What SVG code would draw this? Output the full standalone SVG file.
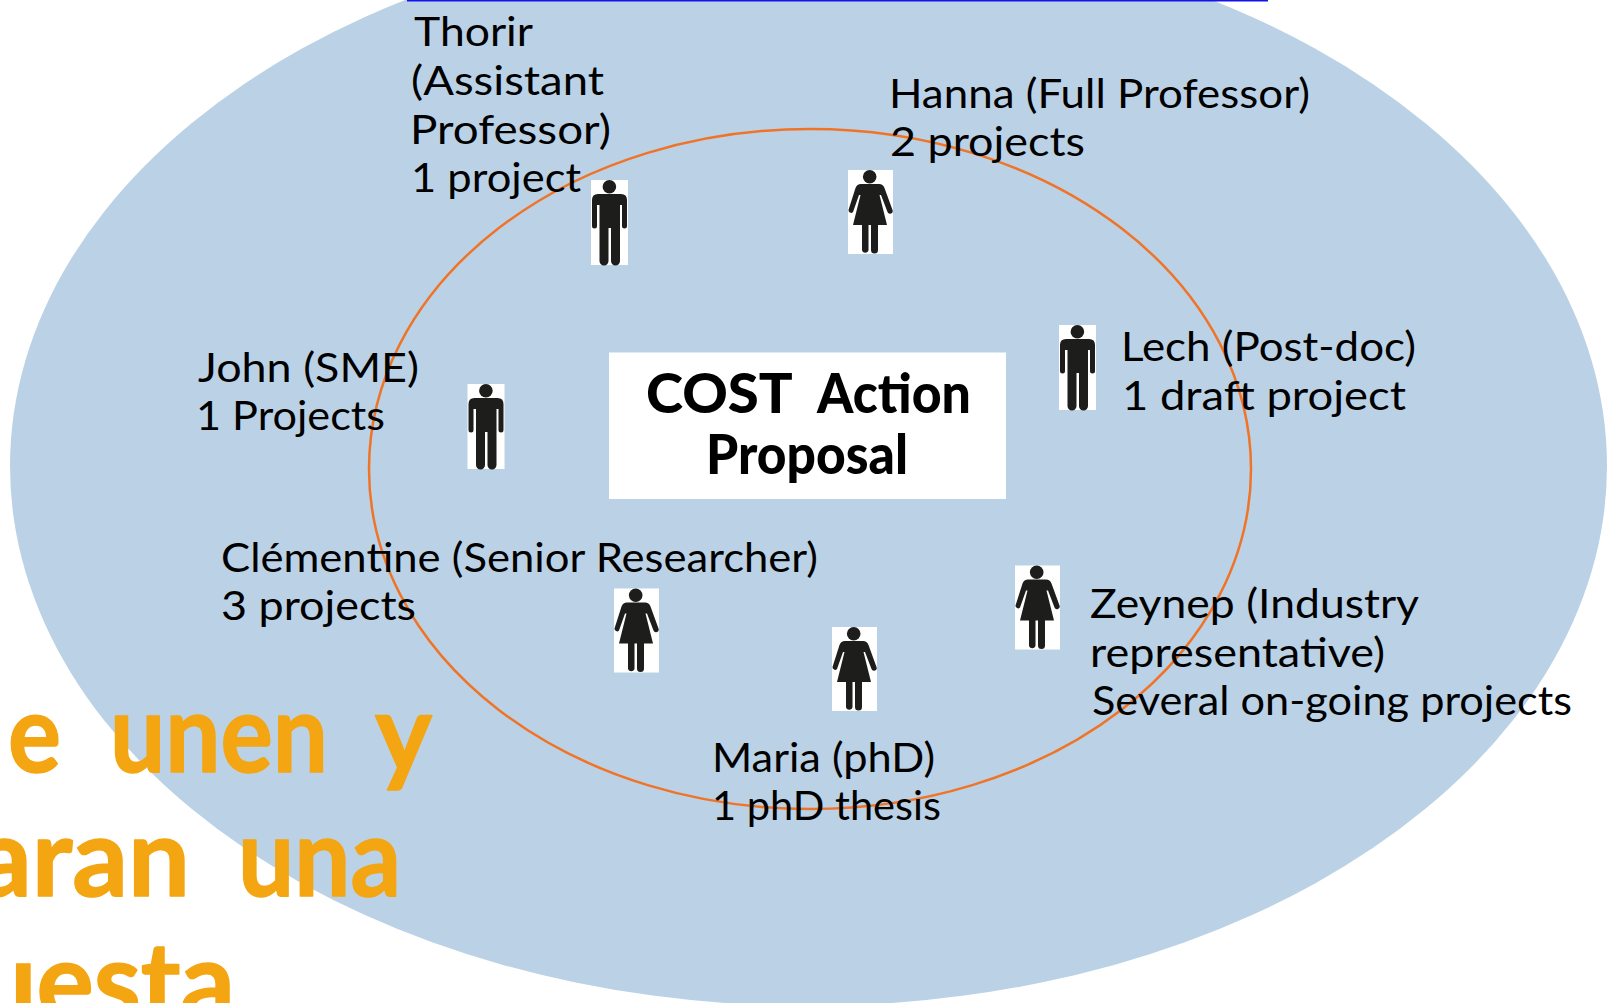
<svg xmlns="http://www.w3.org/2000/svg" width="1607" height="1003" viewBox="0 0 1607 1003">
<style>
text{font-family:"Lato","Open Sans",sans-serif}
.t{font-size:41px;fill:#000}
.c{font-size:56px;font-weight:900;fill:#000}
.o{font-size:110px;font-weight:700;fill:#F4A512;stroke:#F4A512;stroke-width:1.500;stroke-linejoin:round}
.bg{fill:#fff}
.ink{fill:#1d1d1b}
</style>
<defs>
<g id="man"><rect class="bg" width="37" height="85"/><circle class="ink" cx="18.4" cy="6.8" r="6.8"/><path class="ink" d="M1 20Q1 14 7 14H30Q36 14 36 20V46A2.5 2.5 0 0 1 31 46V25H29V81A4.5 4.5 0 0 1 20 81V48H17.500V81A4.5 4.5 0 0 1 8.5 81V25H6V46A2.5 2.5 0 0 1 1 46Z"/></g>
<g id="woman"><rect class="bg" width="45" height="84"/><circle class="ink" cx="21.7" cy="6.8" r="6.8"/><path class="ink" d="M13 14H31Q35 14 36.500 18L44.500 40A2.600 2.600 0 0 1 39.500 42L33 25H31.500L39 55H30V80A3.300 3.300 0 0 1 23 80V55H20.500V80A3.300 3.300 0 0 1 14 80V55H5L12.500 25H11L5 42A2.600 2.600 0 0 1 .5 40L7.500 18Q9 14 13 14Z"/></g>
</defs>
<rect width="1607" height="1003" fill="#fff"/>
<ellipse id="outer" cx="808.500" cy="466" rx="798.500" ry="540" fill="#BBD2E6"/>
<rect id="topline" x="407" y="0" width="861" height="1.500" fill="#1414e6"/>
<ellipse id="inner" cx="810" cy="469" rx="441" ry="340" fill="none" stroke="#F07427" stroke-width="2.500"/>
<g id="title"><rect class="bg" x="609" y="352.500" width="397" height="146.500"/>
<text class="c" y="413"><tspan x="646" textLength="145" lengthAdjust="spacingAndGlyphs">COST</tspan> <tspan x="817" textLength="154" lengthAdjust="spacingAndGlyphs">Action</tspan></text>
<text class="c" x="706" y="474" textLength="202" lengthAdjust="spacingAndGlyphs">Proposal</text></g>
<g id="thorir"><use href="#man" x="591" y="180"/>
<text class="t" x="414" y="46" textLength="119" lengthAdjust="spacingAndGlyphs">Thorir</text>
<text class="t" x="411" y="95" textLength="193" lengthAdjust="spacingAndGlyphs">(Assistant</text>
<text class="t" x="410" y="144" textLength="201" lengthAdjust="spacingAndGlyphs">Professor)</text>
<text class="t" x="411" y="192" textLength="170" lengthAdjust="spacingAndGlyphs">1 project</text></g>
<g id="hanna"><use href="#woman" x="848" y="170"/>
<text class="t" x="889" y="108" textLength="421" lengthAdjust="spacingAndGlyphs">Hanna (Full Professor)</text>
<text class="t" x="890" y="156" textLength="195" lengthAdjust="spacingAndGlyphs">2 projects</text></g>
<g id="john"><use href="#man" x="467.500" y="384"/>
<text class="t" x="198" y="382" textLength="221" lengthAdjust="spacingAndGlyphs">John (SME)</text>
<text class="t" x="196" y="430" textLength="189" lengthAdjust="spacingAndGlyphs">1 Projects</text></g>
<g id="lech"><use href="#man" x="1059" y="325"/>
<text class="t" x="1121" y="361" textLength="295" lengthAdjust="spacingAndGlyphs">Lech (Post-doc)</text>
<text class="t" x="1122" y="410" textLength="284" lengthAdjust="spacingAndGlyphs">1 draft project</text></g>
<g id="clementine"><use href="#woman" x="614" y="588.500"/>
<text class="t" x="221" y="572" textLength="597" lengthAdjust="spacingAndGlyphs">Clémentine (Senior Researcher)</text>
<text class="t" x="221" y="620" textLength="195" lengthAdjust="spacingAndGlyphs">3 projects</text></g>
<g id="zeynep"><use href="#woman" x="1015" y="565.500"/>
<text class="t" x="1090" y="618" textLength="329" lengthAdjust="spacingAndGlyphs">Zeynep (Industry</text>
<text class="t" x="1090" y="667" textLength="295" lengthAdjust="spacingAndGlyphs">representative)</text>
<text class="t" x="1092" y="715" textLength="480" lengthAdjust="spacingAndGlyphs">Several on-going projects</text></g>
<g id="maria"><use href="#woman" x="832" y="627"/>
<text class="t" x="712" y="772" textLength="223" lengthAdjust="spacingAndGlyphs">Maria (phD)</text>
<text class="t" x="712" y="820" textLength="229" lengthAdjust="spacingAndGlyphs">1 phD thesis</text></g>
<g id="caption">
<text class="o" y="772"><tspan x="8" textLength="53" lengthAdjust="spacingAndGlyphs">e</tspan> <tspan x="110" textLength="218" lengthAdjust="spacingAndGlyphs">unen</tspan> <tspan x="375" textLength="57" lengthAdjust="spacingAndGlyphs">y</tspan></text>
<text class="o" y="896"><tspan x="-24" textLength="214" lengthAdjust="spacingAndGlyphs">aran</tspan> <tspan x="238" textLength="163" lengthAdjust="spacingAndGlyphs">una</tspan></text>
<text class="o" x="-24" y="1020" textLength="259" lengthAdjust="spacingAndGlyphs">uesta</text></g>
</svg>
